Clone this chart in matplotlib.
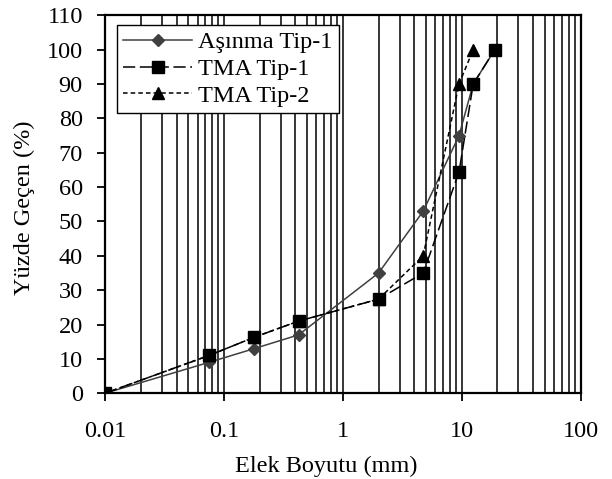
import numpy as np
import matplotlib
matplotlib.use("Agg")
import matplotlib.pyplot as plt
from matplotlib.ticker import FixedLocator, LogLocator, NullFormatter

plt.rcParams['font.family'] = ['Liberation Serif', 'DejaVu Serif']

# elek boyutlari (mm) ve gecen yuzdeler
sieve = [0.01, 0.075, 0.18, 0.425, 2, 4.75, 9.5, 12.5, 19]
asinma_tip1 = [0, 9, 13, 17, 35, 53, 75, 90, 100]
tma_tip1 = [0, 11, 16.3, 21, 27.4, 35, 64.4, 90, 100]
sieve_tip2 = [0.01, 0.075, 0.18, 0.425, 2, 4.75, 9.5, 12.5]
tma_tip2 = [0, 11, 16.3, 21, 27.4, 40, 90, 100]

xticks = [0.01, 0.1, 1, 10, 100]
xticklabels = ['0.01', '0.1', '1', '10', '100']
yticks = list(range(0, 111, 10))

fig = plt.figure(figsize=(6.12, 4.79), dpi=100)
ax = fig.add_axes([0.1716, 0.179, 0.777, 0.789])

ax.plot(sieve, asinma_tip1, color='#404040', lw=1.1, marker='D', ms=6.5,
        label='Aşınma Tip-1', zorder=3)
ax.plot(sieve, tma_tip1, color='black', lw=1.1, dashes=(8, 3), marker='s',
        ms=9, label='TMA Tip-1', zorder=4)
ax.plot(sieve_tip2, tma_tip2, color='black', lw=1.1, dashes=(3, 2), marker='^',
        ms=9, label='TMA Tip-2', zorder=4)

ax.set_xscale('log')
ax.set_xlim(0.01, 100)
ax.set_ylim(0, 110)
ax.xaxis.set_major_locator(FixedLocator(xticks))
ax.set_xticklabels(xticklabels)
ax.xaxis.set_minor_locator(LogLocator(base=10, subs=np.arange(2, 10)))
ax.xaxis.set_minor_formatter(NullFormatter())
ax.set_yticks(yticks)

ax.grid(which='both', axis='x', color='black', lw=1.1)
ax.set_axisbelow(True)
ax.tick_params(axis='both', which='major', direction='out', length=6, width=1.3,
               labelsize=17.5)
ax.tick_params(axis='y', pad=10)
ax.tick_params(axis='x', pad=14)
ax.tick_params(axis='x', which='minor', length=0)
ax.tick_params(top=False, right=False)
for s in ax.spines.values():
    s.set_linewidth(1.6)

ax.set_xlabel('Elek Boyutu (mm)', fontsize=17.5)
ax.xaxis.set_label_coords(0.466, -0.165)
ax.set_ylabel('Yüzde Geçen (%)', fontsize=17.5)
ax.yaxis.set_label_coords(-0.147, 0.49)

leg = ax.legend(loc='upper left', bbox_to_anchor=(0.025, 0.974), fontsize=17.5,
                frameon=True, fancybox=False, framealpha=1, edgecolor='black',
                borderpad=0.25, labelspacing=0.2, handlelength=2.85,
                handletextpad=0.25, borderaxespad=0)
leg.get_frame().set_linewidth(1.0)

fig.savefig('out.png', dpi=100)
